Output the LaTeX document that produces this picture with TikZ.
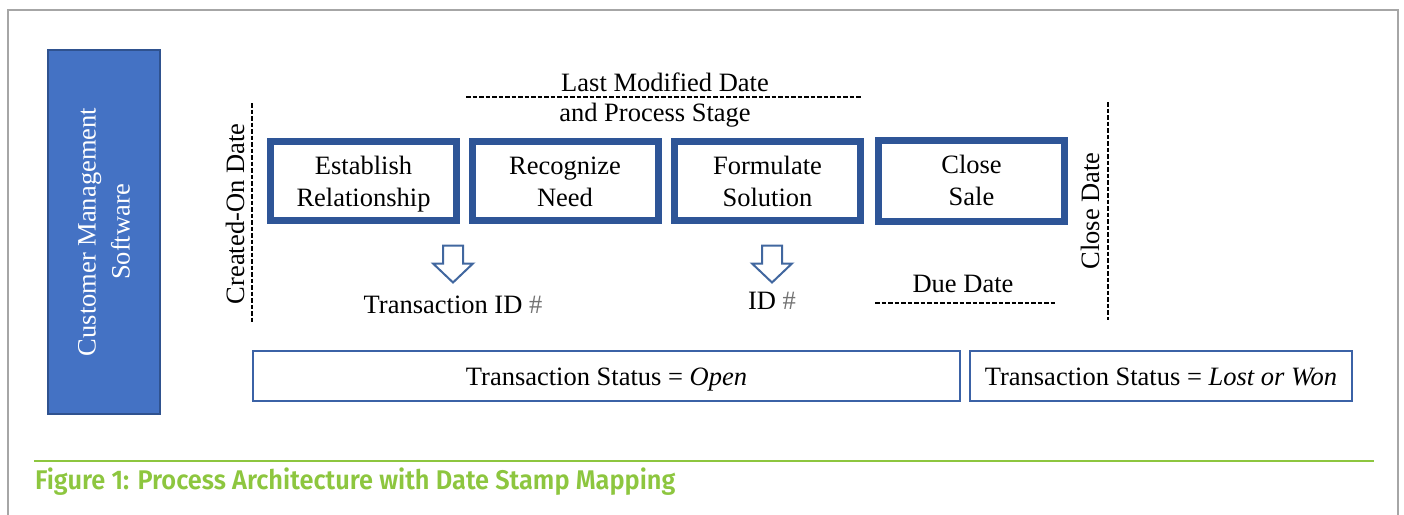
\documentclass[tikz,border=0pt]{standalone}
\usepackage{fontspec}
\setmainfont{Liberation Serif}
\newfontfamily\capfont{Fira Sans SemiBold}
\definecolor{cmsblue}{HTML}{4472C4}
\definecolor{cmsedge}{HTML}{2F528F}
\definecolor{stageblue}{HTML}{2E5597}
\definecolor{statusblue}{HTML}{3B62A6}
\definecolor{arrowblue}{HTML}{41679F}
\definecolor{capgreen}{HTML}{8DC63F}
\definecolor{framegray}{HTML}{A6A6A6}
\tikzset{
  stagebox/.style={draw=stageblue, line width=7pt, minimum width=186pt, minimum height=79pt,
    align=center, font=\fontsize{26.5}{32}\selectfont, inner sep=0pt,
    text height=50pt, text depth=0pt},
  statusbox/.style={draw=statusblue, line width=2.2pt, minimum height=50pt, inner sep=0pt,
    font=\fontsize{26.5}{30}\selectfont, text height=18pt, text depth=0pt},
  datelabel/.style={font=\fontsize{26.5}{30}\selectfont, inner sep=0pt},
  stampline/.style={line width=2.3pt, dash pattern=on 4.5pt off 2pt},
  hollowdown/.pic={
    \draw[draw=arrowblue, fill=white, line width=2pt, line join=miter]
      (-10,-18) -- (10,-18) -- (10,0) -- (20,0) -- (0,19) -- (-20,0) -- (-10,0) -- cycle;
  }
}
\begin{document}
\begin{tikzpicture}[x=1pt, y=-1pt]
\useasboundingbox (0,0) rectangle (1404,514);
% outer frame
\draw[framegray, line width=1.5pt] (8,530) -- (8,10) -- (1398,10) -- (1398,530);

% software block
\node[fill=cmsblue, draw=cmsedge, line width=1.2pt, minimum width=112pt, minimum height=364pt,
  inner sep=0pt] (cms) at (104,232) {};
\node[rotate=90, text=white, align=center, font=\fontsize{26.5}{34}\selectfont] (cmslabel)
  at (cms.center) {Customer Management\\Software};

% process stages
\node[stagebox] (s1) at (363.5,181) {Establish\\Relationship};
\node[stagebox] (s2) at (565,181) {Recognize\\Need};
\node[stagebox] (s3) at (767.5,181) {Formulate\\Solution};
\node[stagebox, minimum height=81pt] (s4) at (971.5,180.5) {Close\\Sale};

% last modified date / process stage
\node[datelabel] (lmd) at (665,82) {Last Modified Date};
\node[datelabel] (ps) at (655,115) {and Process Stage};
\coordinate (lmdL) at (466,97);
\coordinate (lmdR) at (862,97);
\draw[stampline] (lmdL) -- (lmdR);

% created-on date
\coordinate (coT) at (252,103);
\coordinate (coB) at (252,322);
\draw[stampline] (coT) -- (coB);
\node[datelabel, rotate=90] (colabel) at (235,214) {Created-On Date};

% close date
\coordinate (cdT) at (1108,102);
\coordinate (cdB) at (1108,320);
\draw[stampline] (cdT) -- (cdB);
\node[datelabel, rotate=90] (cdlabel) at (1090,211) {Close Date};

% identifiers
\pic (a1) at (453,263.5) {hollowdown};
\pic (a2) at (772,263.5) {hollowdown};
\node[datelabel] (tid) at (453,305) {Transaction ID \textcolor{gray!90!black}{\#}};
\node[datelabel] (iid) at (772,301) {ID \textcolor{gray!90!black}{\#}};

% due date
\node[datelabel] (due) at (963,284) {Due Date};
\coordinate (dueL) at (875,303);
\coordinate (dueR) at (1055,303);
\draw[stampline] (dueL) -- (dueR);

% transaction status
\node[statusbox, minimum width=707pt] (open) at (606.5,376) {Transaction Status = \textit{Open}};
\node[statusbox, minimum width=382pt] (closed) at (1161,376) {Transaction Status = \textit{Lost or Won}};

% caption
\coordinate (capL) at (34,461);
\coordinate (capR) at (1374,461);
\draw[capgreen, line width=2.5pt] (capL) -- (capR);
\node[anchor=west, text=capgreen, inner sep=0pt, font=\capfont\fontsize{27}{30}\selectfont] (cap)
  at (35,482) {\scalebox{0.94}[1]{Figure 1: Process Architecture with Date Stamp Mapping}};
\end{tikzpicture}
\end{document}
